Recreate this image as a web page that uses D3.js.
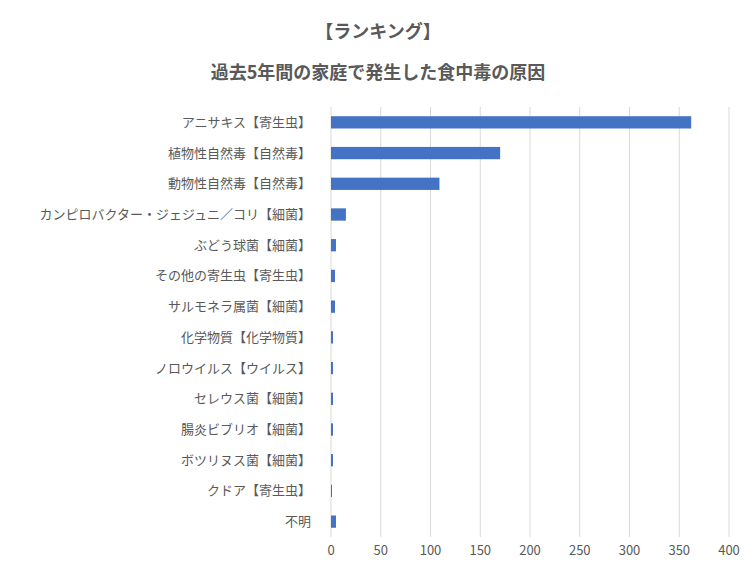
<!DOCTYPE html>
<html><head><meta charset="utf-8">
<script src="https://cdn.jsdelivr.net/npm/d3@7"></script>
<style>body{margin:0;background:#fff;font-family:"Noto Sans CJK JP","Noto Sans",sans-serif;}</style>
</head><body><div id="chart"></div>
<script>
var categories = ["アニサキス【寄生虫】","植物性自然毒【自然毒】","動物性自然毒【自然毒】","カンピロバクター・ジェジュニ／コリ【細菌】","ぶどう球菌【細菌】","その他の寄生虫【寄生虫】","サルモネラ属菌【細菌】","化学物質【化学物質】","ノロウイルス【ウイルス】","セレウス菌【細菌】","腸炎ビブリオ【細菌】","ボツリヌス菌【細菌】","クドア【寄生虫】","不明"];
var values = [362, 170, 109, 15, 5, 4, 4, 2, 2, 2, 2, 2, 1, 5];
var ticks = [0, 50, 100, 150, 200, 250, 300, 350, 400];
var titles = ["【ランキング】", "過去5年間の家庭で発生した食中毒の原因"];

var width = 756, height = 575,
    margin = { top: 107, right: 27, bottom: 38, left: 331 };

var svg = d3.select("#chart").append("svg").attr("width", width).attr("height", height);

var x = d3.scaleLinear().domain([0, 400]).range([margin.left, width - margin.right]);
var y = d3.scaleBand().domain(categories).range([margin.top, height - margin.bottom]).paddingInner(0.6).paddingOuter(0.3);

//grid
svg.selectAll("line.grid").data(ticks).enter().append("line")
  .attr("x1", d => x(d)).attr("x2", d => x(d))
  .attr("y1", margin.top).attr("y2", height - margin.bottom)
  .attr("stroke", "#d9d9d9").attr("stroke-width", 1);

svg.selectAll("rect").data(values).enter().append("rect")
  .attr("x", x(0)).attr("y", (d, i) => y(categories[i]))
  .attr("width", d => x(d) - x(0)).attr("height", y.bandwidth())
  .attr("fill", "#4472c4");

svg.selectAll("text.cat").data(categories).enter().append("text")
  .attr("x", margin.left - 20).attr("y", d => y(d) + y.bandwidth() / 2)
  .attr("dy", "0.35em").attr("text-anchor", "end")
  .attr("font-size", 13).attr("fill", "#595959").text(d => d);

svg.selectAll("text.tick").data(ticks).enter().append("text")
  .attr("x", d => x(d)).attr("y", height - margin.bottom + 18)
  .attr("text-anchor", "middle").attr("font-size", 13).attr("fill", "#595959").text(d => d);

svg.selectAll("text.title").data(titles).enter().append("text")
  .attr("x", width / 2).attr("y", (d, i) => 38 + i * 41)
  .attr("text-anchor", "middle").attr("font-size", 18).attr("font-weight", "bold")
  .attr("fill", "#595959").text(d => d);
</script></body></html>
